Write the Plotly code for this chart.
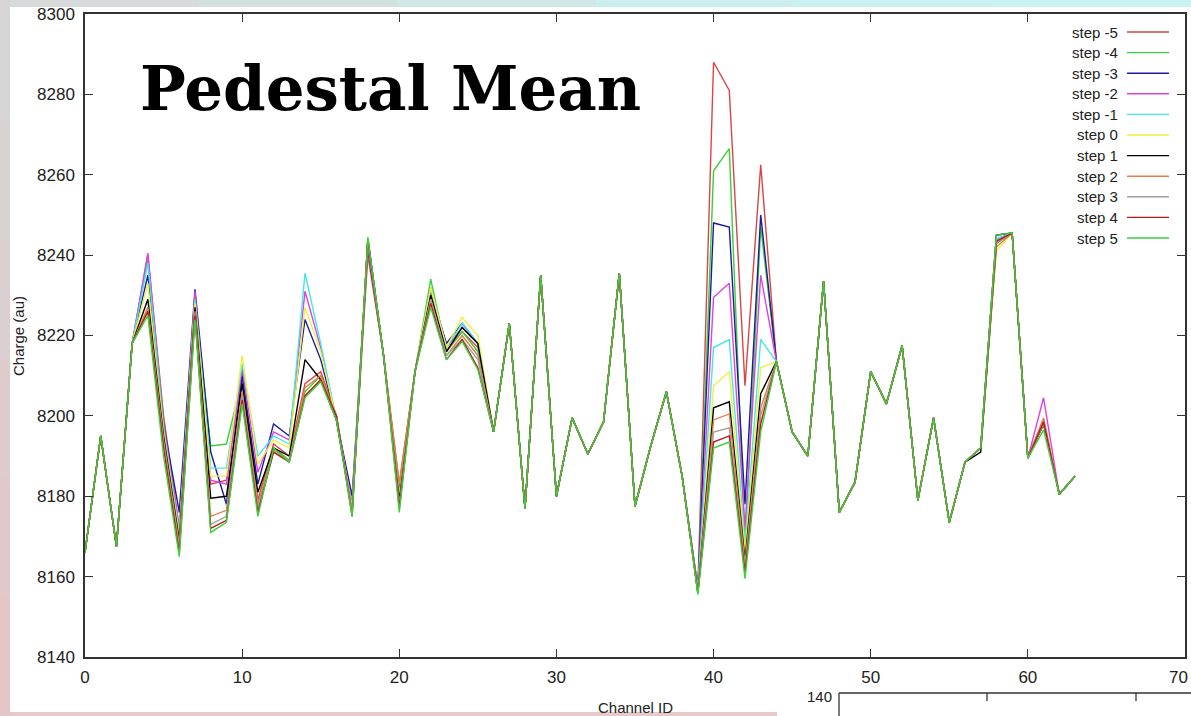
import plotly.graph_objects as go

# ---------------- data ----------------
channels = list(range(64))

# value shared by all steps (also the "step 5" curve) for each channel
base = [8166, 8195, 8167.5, 8218, 8225, 8190, 8165, 8224, 8171, 8173.5,
        8203, 8175, 8192, 8188.5, 8204.5, 8208.5, 8199, 8175, 8244.5, 8215,
        8176, 8211, 8227, 8214, 8218.5, 8211.5, 8196, 8223, 8177, 8235,
        8180, 8199.5, 8190.5, 8198.5, 8235.5, 8177.5, 8192.5, 8206, 8185, 8155.5,
        8192, 8193.5, 8159.5, 8196, 8213.5, 8196, 8190, 8233.5, 8176, 8183.5,
        8211, 8203, 8217.5, 8179, 8199.5, 8173.5, 8188.5, 8192, 8245, 8245.5,
        8189.5, 8196.5, 8180.5, 8185]

step_names = ["step -5", "step -4", "step -3", "step -2", "step -1", "step 0",
              "step 1", "step 2", "step 3", "step 4", "step 5"]
step_colors = ["#d94545", "#3ccf3c", "#1c1c9c", "#e040e0", "#40e8e8", "#f0f040",
               "#000000", "#e0804a", "#a0a0a0", "#c01818", "#3ccf3c"]

# channels where the steps differ: values for steps -5 ... 5
spread = {
    4:  [8240, 8239, 8235, 8240.5, 8238, 8233, 8229, 8227, 8226, 8226, 8225],
    5:  [8200, 8199, 8198, 8198, 8197, 8196, 8195, 8194, 8193, 8192, 8190],
    6:  [8172, 8170, 8176, 8172, 8171, 8170, 8169, 8168, 8167, 8166, 8165],
    7:  [8230, 8229, 8231.5, 8231, 8229, 8228, 8227, 8226, 8225, 8225, 8224],
    8:  [8183, 8192.5, 8191, 8184, 8187, 8185, 8179.5, 8175, 8173, 8172, 8171],
    9:  [8184, 8193, 8178, 8183, 8187, 8185, 8180, 8176.5, 8175, 8174, 8173.5],
    10: [8211, 8209, 8210, 8212, 8213, 8215, 8208, 8206, 8205, 8204, 8203],
    11: [8179, 8177, 8183, 8186, 8190, 8188, 8181, 8178, 8177, 8176, 8175],
    12: [8193, 8192, 8198, 8196, 8195, 8194, 8192, 8191.5, 8191, 8191, 8192],
    13: [8190, 8189, 8195, 8194, 8193, 8192, 8190, 8189, 8189, 8188.5, 8188.5],
    14: [8208, 8206, 8224, 8231, 8235.5, 8227, 8214, 8207, 8205, 8205, 8204.5],
    15: [8211, 8210, 8214, 8217, 8218, 8216, 8209, 8210, 8209, 8209, 8208.5],
    16: [8200, 8200, 8199, 8199, 8199, 8199, 8199, 8200, 8200, 8200, 8199],
    17: [8177, 8177, 8180, 8178, 8177, 8177, 8176, 8176, 8176, 8175, 8175],
    18: [8240, 8244, 8242, 8243, 8243, 8244, 8244, 8244, 8244, 8244, 8244.5],
    20: [8183, 8182, 8181, 8181, 8180, 8180, 8179, 8183, 8178, 8177, 8176],
    22: [8232, 8234, 8231, 8231, 8232, 8232, 8230, 8229, 8229, 8228, 8227],
    23: [8216, 8216, 8218, 8217, 8217, 8217, 8216, 8215, 8215, 8214, 8214],
    24: [8221, 8221, 8223, 8222, 8223, 8224.5, 8222, 8220, 8219, 8219, 8218.5],
    25: [8217, 8216, 8218, 8218, 8218, 8220, 8218, 8215, 8214, 8212, 8211.5],
    39: [8157, 8157, 8157, 8157, 8157, 8156, 8156, 8156, 8156, 8156, 8155.5],
    40: [8288, 8261, 8248, 8229.5, 8217, 8207.5, 8202, 8199, 8196, 8193.5, 8192],
    41: [8281, 8266.5, 8247, 8233, 8219, 8211, 8203.5, 8200.5, 8197, 8195, 8193.5],
    42: [8207.5, 8168, 8178, 8172, 8168, 8166, 8164, 8163, 8162, 8161, 8159.5],
    43: [8262.5, 8247, 8250, 8235, 8219, 8212, 8205.5, 8202, 8200, 8198, 8196],
    57: [8192, 8192, 8192, 8192, 8192, 8192, 8191, 8192, 8192, 8192, 8192],
    58: [8245, 8245, 8245, 8244, 8244, 8241, 8243, 8242, 8243, 8243.5, 8245],
    61: [8199, 8198, 8198, 8204.5, 8199, 8198, 8198, 8199.5, 8198, 8198.5, 8196.5],
}

x_ticks = [0, 10, 20, 30, 40, 50, 60, 70]
y_ticks = [8140, 8160, 8180, 8200, 8220, 8240, 8260, 8280, 8300]

# ---------------- figure ----------------
W, H = 1191, 716
L, R, T, B = 85, 6, 14, 59
PW, PH = W - L - R, H - T - B


def px(x):
    return (x - L) / PW


def py(y):
    return 1 - (y - T) / PH


SANS = "Liberation Sans, Arial, sans-serif"
TXT = "#222222"

fig = go.Figure()
for i, (name, color) in enumerate(zip(step_names, step_colors)):
    vals = [spread[c][i] if c in spread else base[c] for c in channels]
    fig.add_trace(go.Scatter(x=channels, y=vals, mode="lines", name=name,
                             line=dict(color=color, width=1.4),
                             showlegend=False, hoverinfo="x+y+name"))

shapes = []
annotations = []

# manual gnuplot-style legend (text left, sample line right)
for i, (name, color) in enumerate(zip(step_names, step_colors)):
    yy = 32 + 20.6 * i
    annotations.append(dict(xref="paper", yref="paper", x=px(1120), y=py(yy),
                            xanchor="right", yanchor="middle", text=name,
                            showarrow=False, font=dict(family=SANS, size=15, color=TXT)))
    shapes.append(dict(type="line", xref="paper", yref="paper",
                       x0=px(1127), x1=px(1169), y0=py(yy), y1=py(yy),
                       line=dict(color=color, width=1.4)))

# page decorations (slide background strips)
top_cols = ["#d7dada", "#d3e0e0", "#cfe7e7", "#cbeeee", "#c9f1f1", "#c9f2f2"]
seg = W / len(top_cols)
for k, c in enumerate(top_cols):
    shapes.append(dict(type="rect", xref="paper", yref="paper", layer="above",
                       x0=px(k * seg), x1=px((k + 1) * seg + 1), y0=py(0), y1=py(7),
                       fillcolor=c, line=dict(width=0)))
left_cols = ["#d6d6d6", "#d8d3d3", "#dbd0d0", "#decccc", "#e1c9c9", "#e4c6c6"]
seg = H / len(left_cols)
for k, c in enumerate(left_cols):
    shapes.append(dict(type="rect", xref="paper", yref="paper", layer="above",
                       x0=px(0), x1=px(10), y0=py(k * seg), y1=py((k + 1) * seg + 1),
                       fillcolor=c, line=dict(width=0)))
shapes.append(dict(type="rect", xref="paper", yref="paper", layer="above",
                   x0=px(10), x1=px(777), y0=py(712), y1=py(716),
                   fillcolor="#e8c9ca", line=dict(width=0)))

# fragment of the next chart at the bottom right
shapes.append(dict(type="line", xref="paper", yref="paper", x0=px(839), x1=px(1191),
                   y0=py(693), y1=py(693), line=dict(color="#333", width=1.3)))
shapes.append(dict(type="line", xref="paper", yref="paper", x0=px(839), x1=px(839),
                   y0=py(693), y1=py(716), line=dict(color="#333", width=1.3)))
for tx in (987, 1136):
    shapes.append(dict(type="line", xref="paper", yref="paper", x0=px(tx), x1=px(tx),
                       y0=py(693), y1=py(701), line=dict(color="#333", width=1.3)))
annotations.append(dict(xref="paper", yref="paper", x=px(834), y=py(696),
                        xanchor="right", yanchor="middle", text="140", showarrow=False,
                        font=dict(family=SANS, size=15, color=TXT)))

# last x tick label, kept inside the page edge
annotations.append(dict(xref="paper", yref="paper", x=px(1190), y=py(677),
                        xanchor="right", yanchor="middle", text=str(x_ticks[-1]),
                        showarrow=False, font=dict(family=SANS, size=17, color=TXT)))

# big slide title
annotations.append(dict(xref="paper", yref="paper", x=px(138), y=py(88),
                        xanchor="left", yanchor="middle", text="<b>Pedestal Mean</b>",
                        showarrow=False,
                        font=dict(family="DejaVu Serif, serif", size=61, color="#000")))

# axis titles
annotations.append(dict(xref="paper", yref="paper", x=px(18), y=py(336),
                        xanchor="center", yanchor="middle", text="Charge (au)",
                        textangle=-90, showarrow=False,
                        font=dict(family=SANS, size=15, color=TXT)))
annotations.append(dict(xref="paper", yref="paper", x=px(635), y=py(707),
                        xanchor="center", yanchor="middle", text="Channel ID",
                        showarrow=False, font=dict(family=SANS, size=15, color=TXT)))

axis_common = dict(showline=True, linecolor="#333333", linewidth=1.5, mirror="ticks",
                   ticks="inside", ticklen=8, tickwidth=1.3, tickcolor="#333333",
                   showgrid=False, zeroline=False, fixedrange=True,
                   tickfont=dict(family=SANS, size=17, color=TXT))

fig.update_layout(
    width=W, height=H,
    margin=dict(l=L, r=R, t=T, b=B, autoexpand=False),
    paper_bgcolor="white", plot_bgcolor="white",
    xaxis=dict(range=[0, 70], tickvals=x_ticks, ticktext=[str(v) for v in x_ticks[:-1]] + [" "],
               ticklabelstandoff=4, automargin=False, **axis_common),
    yaxis=dict(range=[8140, 8300], tickvals=y_ticks, ticktext=[str(v) for v in y_ticks],
               ticklabelstandoff=5, automargin=False, **axis_common),
    shapes=shapes,
    annotations=annotations,
    showlegend=False,
)

fig.write_html("out.html")
